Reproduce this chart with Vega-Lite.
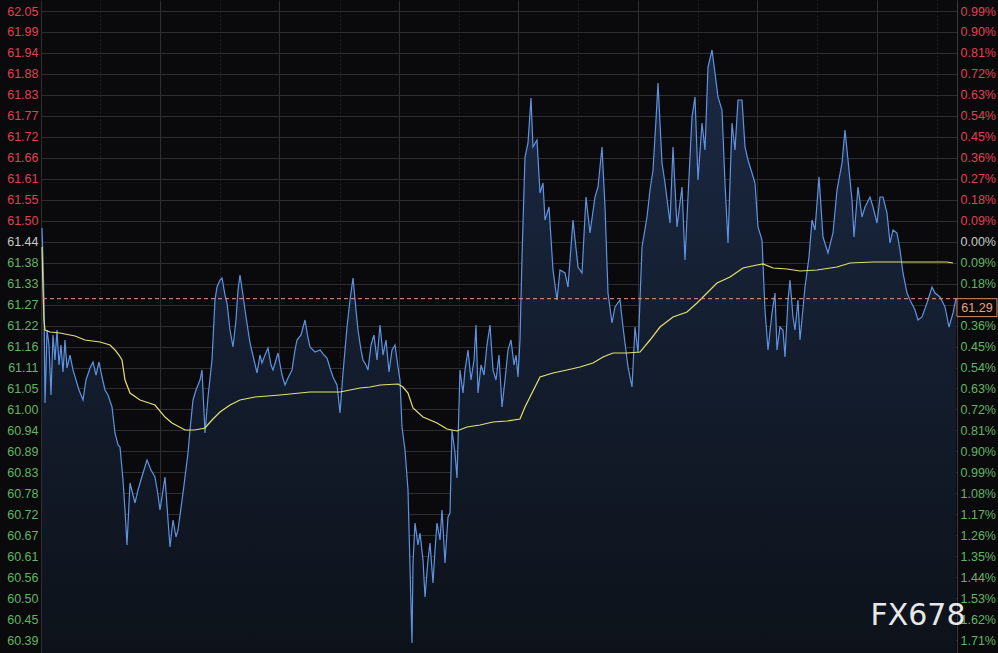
{
  "$schema": "https://vega.github.io/schema/vega-lite/v6.json",
  "width": 916,
  "height": 653,
  "autosize": {"type": "none"},
  "padding": {"left": 41, "top": 0, "right": 41, "bottom": 0},
  "background": "#0a0a0c",
  "config": {
    "view": {"stroke": null},
    "axis": {"labelFont": "Liberation Sans", "labelFontSize": 12.5}
  },
  "datasets": {
    "price": [
      {"t":1,"v":61.476},{"t":2,"v":61.3918},{"t":3,"v":61.2865},{"t":4,"v":61.0154},{"t":5,"v":61.1023},{"t":6,"v":61.2075},{"t":8,"v":61.1681},{"t":10,"v":61.0364},{"t":12,"v":61.1944},{"t":14,"v":61.1286},{"t":16,"v":61.2075},{"t":18,"v":61.1154},{"t":20,"v":61.1681},{"t":22,"v":61.097},{"t":24,"v":61.1812},{"t":26,"v":61.1075},{"t":29,"v":61.1417},{"t":32,"v":61.1023},{"t":35,"v":61.0759},{"t":38,"v":61.0496},{"t":42,"v":61.0233},{"t":45,"v":61.0759},{"t":49,"v":61.1075},{"t":52,"v":61.1233},{"t":55,"v":61.0891},{"t":58,"v":61.1233},{"t":61,"v":61.0838},{"t":64,"v":61.0496},{"t":67,"v":61.0364},{"t":71,"v":61.0049},{"t":74,"v":60.9364},{"t":77,"v":60.9048},{"t":79,"v":60.8996},{"t":82,"v":60.8127},{"t":84,"v":60.7337},{"t":86,"v":60.6416},{"t":89,"v":60.8048},{"t":92,"v":60.7732},{"t":94,"v":60.7522},{"t":97,"v":60.7864},{"t":99,"v":60.8048},{"t":103,"v":60.839},{"t":106,"v":60.8653},{"t":110,"v":60.839},{"t":114,"v":60.8206},{"t":117,"v":60.7732},{"t":119,"v":60.7337},{"t":122,"v":60.7864},{"t":124,"v":60.8206},{"t":127,"v":60.7074},{"t":129,"v":60.6363},{"t":132,"v":60.7074},{"t":135,"v":60.6627},{"t":137,"v":60.6811},{"t":142,"v":60.7785},{"t":147,"v":60.8838},{"t":149,"v":60.9443},{"t":152,"v":61.0233},{"t":155,"v":61.0496},{"t":159,"v":61.0759},{"t":161,"v":61.1023},{"t":164,"v":60.9364},{"t":167,"v":61.0312},{"t":171,"v":61.1286},{"t":174,"v":61.2865},{"t":176,"v":61.3207},{"t":179,"v":61.3392},{"t":181,"v":61.3444},{"t":184,"v":61.2997},{"t":186,"v":61.2786},{"t":189,"v":61.2075},{"t":192,"v":61.1628},{"t":195,"v":61.2339},{"t":197,"v":61.3128},{"t":199,"v":61.3523},{"t":202,"v":61.2997},{"t":204,"v":61.2602},{"t":207,"v":61.2075},{"t":209,"v":61.1733},{"t":213,"v":61.1286},{"t":216,"v":61.0944},{"t":219,"v":61.1417},{"t":221,"v":61.1207},{"t":224,"v":61.1417},{"t":227,"v":61.1602},{"t":230,"v":61.1154},{"t":232,"v":61.1023},{"t":235,"v":61.1286},{"t":237,"v":61.147},{"t":241,"v":61.0891},{"t":244,"v":61.0628},{"t":247,"v":61.0812},{"t":251,"v":61.1023},{"t":254,"v":61.1549},{"t":256,"v":61.1812},{"t":260,"v":61.1944},{"t":264,"v":61.2339},{"t":267,"v":61.1865},{"t":269,"v":61.1628},{"t":274,"v":61.1496},{"t":279,"v":61.1549},{"t":283,"v":61.1417},{"t":286,"v":61.1338},{"t":289,"v":61.1075},{"t":292,"v":61.0838},{"t":296,"v":61.0628},{"t":299,"v":60.9891},{"t":302,"v":61.0944},{"t":304,"v":61.1549},{"t":306,"v":61.2154},{"t":309,"v":61.2865},{"t":312,"v":61.3444},{"t":315,"v":61.2602},{"t":317,"v":61.2075},{"t":320,"v":61.1549},{"t":322,"v":61.1286},{"t":325,"v":61.1154},{"t":327,"v":61.1023},{"t":330,"v":61.1681},{"t":333,"v":61.1944},{"t":336,"v":61.1286},{"t":339,"v":61.2207},{"t":342,"v":61.1417},{"t":345,"v":61.1812},{"t":348,"v":61.097},{"t":351,"v":61.1549},{"t":354,"v":61.1681},{"t":357,"v":61.1102},{"t":359,"v":61.0759},{"t":361,"v":60.9522},{"t":364,"v":60.8917},{"t":367,"v":60.7864},{"t":369,"v":60.5837},{"t":371,"v":60.3836},{"t":372,"v":60.5942},{"t":374,"v":60.6995},{"t":377,"v":60.6416},{"t":379,"v":60.6732},{"t":382,"v":60.6021},{"t":384,"v":60.5047},{"t":387,"v":60.6021},{"t":389,"v":60.6469},{"t":392,"v":60.5416},{"t":394,"v":60.6284},{"t":396,"v":60.6995},{"t":399,"v":60.6548},{"t":401,"v":60.7337},{"t":404,"v":60.5942},{"t":407,"v":60.7153},{"t":409,"v":60.7258},{"t":411,"v":60.9443},{"t":414,"v":60.8838},{"t":416,"v":60.818},{"t":419,"v":61.1023},{"t":422,"v":61.0417},{"t":424,"v":61.1023},{"t":427,"v":61.1549},{"t":430,"v":61.0759},{"t":433,"v":61.1286},{"t":435,"v":61.2207},{"t":437,"v":61.0417},{"t":440,"v":61.1154},{"t":443,"v":61.0891},{"t":446,"v":61.1681},{"t":449,"v":61.2207},{"t":452,"v":61.1023},{"t":455,"v":61.0759},{"t":458,"v":61.1417},{"t":461,"v":61.0049},{"t":464,"v":61.0759},{"t":467,"v":61.1549},{"t":470,"v":61.1812},{"t":473,"v":61.1154},{"t":475,"v":61.1417},{"t":477,"v":61.0838},{"t":479,"v":61.1812},{"t":481,"v":61.3997},{"t":484,"v":61.6629},{"t":487,"v":61.6998},{"t":490,"v":61.8182},{"t":492,"v":61.6893},{"t":496,"v":61.7077},{"t":499,"v":61.5682},{"t":502,"v":61.5945},{"t":504,"v":61.4971},{"t":508,"v":61.5313},{"t":512,"v":61.3655},{"t":516,"v":61.2865},{"t":519,"v":61.3655},{"t":524,"v":61.3576},{"t":527,"v":61.3207},{"t":532,"v":61.4971},{"t":537,"v":61.3734},{"t":541,"v":61.3576},{"t":545,"v":61.5576},{"t":549,"v":61.4629},{"t":554,"v":61.5576},{"t":557,"v":61.584},{"t":561,"v":61.6893},{"t":564,"v":61.5313},{"t":567,"v":61.3049},{"t":571,"v":61.226},{"t":574,"v":61.2681},{"t":579,"v":61.2865},{"t":582,"v":61.2154},{"t":587,"v":61.1102},{"t":591,"v":61.0575},{"t":594,"v":61.2154},{"t":597,"v":61.147},{"t":601,"v":61.426},{"t":606,"v":61.505},{"t":609,"v":61.5761},{"t":612,"v":61.6287},{"t":615,"v":61.7603},{"t":617,"v":61.8577},{"t":621,"v":61.6471},{"t":624,"v":61.5945},{"t":629,"v":61.4892},{"t":632,"v":61.6893},{"t":636,"v":61.4787},{"t":641,"v":61.584},{"t":644,"v":61.3918},{"t":647,"v":61.5576},{"t":651,"v":61.7682},{"t":654,"v":61.8209},{"t":657,"v":61.6024},{"t":661,"v":61.7524},{"t":664,"v":61.6814},{"t":667,"v":61.8998},{"t":671,"v":61.9446},{"t":674,"v":61.884},{"t":677,"v":61.8209},{"t":681,"v":61.7866},{"t":684,"v":61.5945},{"t":687,"v":61.4366},{"t":691,"v":61.7524},{"t":694,"v":61.6814},{"t":697,"v":61.813},{"t":701,"v":61.813},{"t":704,"v":61.6893},{"t":707,"v":61.655},{"t":711,"v":61.6208},{"t":714,"v":61.5945},{"t":717,"v":61.4787},{"t":721,"v":61.4445},{"t":724,"v":61.2602},{"t":727,"v":61.1549},{"t":731,"v":61.2523},{"t":734,"v":61.3049},{"t":736,"v":61.1549},{"t":739,"v":61.2154},{"t":742,"v":61.2075},{"t":744,"v":61.1365},{"t":747,"v":61.2865},{"t":749,"v":61.3392},{"t":752,"v":61.2418},{"t":754,"v":61.2075},{"t":757,"v":61.2865},{"t":759,"v":61.1812},{"t":764,"v":61.3207},{"t":768,"v":61.3997},{"t":771,"v":61.4971},{"t":774,"v":61.4708},{"t":778,"v":61.6103},{"t":782,"v":61.4523},{"t":787,"v":61.4102},{"t":792,"v":61.4629},{"t":796,"v":61.5761},{"t":801,"v":61.6471},{"t":804,"v":61.734},{"t":807,"v":61.655},{"t":811,"v":61.5497},{"t":813,"v":61.4523},{"t":817,"v":61.584},{"t":821,"v":61.505},{"t":824,"v":61.5313},{"t":829,"v":61.5576},{"t":832,"v":61.5313},{"t":836,"v":61.4892},{"t":839,"v":61.5576},{"t":842,"v":61.5576},{"t":846,"v":61.5155},{"t":849,"v":61.4366},{"t":852,"v":61.4708},{"t":856,"v":61.4629},{"t":859,"v":61.4181},{"t":862,"v":61.3576},{"t":866,"v":61.3049},{"t":869,"v":61.2865},{"t":874,"v":61.2602},{"t":877,"v":61.2339},{"t":881,"v":61.2418},{"t":886,"v":61.2786},{"t":891,"v":61.3207},{"t":894,"v":61.3049},{"t":899,"v":61.2944},{"t":904,"v":61.2681},{"t":908,"v":61.2154},{"t":912,"v":61.2523},{"t":915,"v":61.29}
    ],
    "avg": [
      {"t":1,"v":61.426},{"t":2,"v":61.3128},{"t":3,"v":61.2339},{"t":4,"v":61.2075},{"t":9,"v":61.2023},{"t":19,"v":61.1996},{"t":34,"v":61.1918},{"t":44,"v":61.1812},{"t":59,"v":61.176},{"t":69,"v":61.1681},{"t":74,"v":61.1549},{"t":78,"v":61.1417},{"t":81,"v":61.1286},{"t":84,"v":61.0759},{"t":89,"v":61.0417},{"t":99,"v":61.0233},{"t":114,"v":61.0101},{"t":124,"v":60.9785},{"t":131,"v":60.9627},{"t":144,"v":60.9443},{"t":154,"v":60.9443},{"t":164,"v":60.9496},{"t":171,"v":60.9706},{"t":179,"v":60.9917},{"t":189,"v":61.0101},{"t":199,"v":61.0233},{"t":214,"v":61.0312},{"t":239,"v":61.0364},{"t":269,"v":61.0443},{"t":299,"v":61.0443},{"t":319,"v":61.0549},{"t":329,"v":61.0575},{"t":339,"v":61.0628},{"t":357,"v":61.0654},{"t":362,"v":61.0575},{"t":367,"v":61.0417},{"t":372,"v":61.0022},{"t":382,"v":60.9785},{"t":396,"v":60.9627},{"t":406,"v":60.9469},{"t":416,"v":60.9417},{"t":426,"v":60.9522},{"t":439,"v":60.9575},{"t":452,"v":60.9654},{"t":466,"v":60.968},{"t":479,"v":60.9733},{"t":484,"v":61.0049},{"t":489,"v":61.0312},{"t":499,"v":61.0838},{"t":512,"v":61.0944},{"t":526,"v":61.1023},{"t":539,"v":61.1102},{"t":552,"v":61.1207},{"t":562,"v":61.1365},{"t":572,"v":61.147},{"t":586,"v":61.147},{"t":599,"v":61.1496},{"t":609,"v":61.1812},{"t":619,"v":61.2154},{"t":632,"v":61.2418},{"t":646,"v":61.2549},{"t":656,"v":61.2786},{"t":666,"v":61.3049},{"t":676,"v":61.3313},{"t":689,"v":61.347},{"t":702,"v":61.3707},{"t":716,"v":61.3786},{"t":722,"v":61.3813},{"t":732,"v":61.3707},{"t":746,"v":61.3681},{"t":759,"v":61.3629},{"t":776,"v":61.3655},{"t":796,"v":61.3734},{"t":809,"v":61.3839},{"t":832,"v":61.3865},{"t":859,"v":61.3865},{"t":882,"v":61.3865},{"t":906,"v":61.3865},{"t":912,"v":61.3839}
    ],
    "last": [{"v": 61.29, "t0": 916, "t1": 956, "p0": 61.29, "p1": 61.2428, "tm": 936, "pm": 61.2665, "label": "61.29"}],
    "mark": [{"t": 877, "v": 60.4547, "label": "FX678"}]
  },
  "layer": [
    {
      "data": {"name": "price"},
      "mark": {"type": "area", "color": {"gradient": "linear", "x1": 0, "y1": 0, "x2": 0, "y2": 1, "stops": [{"offset": 0, "color": "#1a2943"}, {"offset": 1, "color": "#0d121a"}]}},
      "encoding": {
        "x": {"field": "t", "type": "quantitative", "scale": {"domain": [0, 916], "nice": false, "zero": false},
          "axis": {"values": [0, 119, 238.5, 358, 477, 597, 716, 836, 916], "grid": true, "gridColor": "#2e2e30", "gridWidth": 1, "labels": false, "ticks": false, "domain": false, "title": null}},
        "y": {"field": "v", "type": "quantitative", "scale": {"domain": [60.3573, 62.0762], "nice": false, "zero": false},
          "axis": {"orient": "left", "values": [62.0472,61.992,61.9368,61.8816,61.8264,61.7712,61.716,61.6608,61.6056,61.5504,61.4952,61.44,61.3848,61.3296,61.2744,61.2192,61.164,61.1088,61.0536,60.9984,60.9432,60.888,60.8328,60.7776,60.7224,60.6672,60.612,60.5568,60.5016,60.4464,60.3912],
            "format": ".2f", "grid": true, "gridColor": "#2e2e30", "gridWidth": 1, "ticks": false, "domain": false, "title": null, "labelPadding": 3, "labelOverlap": false, "labelFlush": false, "labelBaseline": "middle",
            "labelColor": {"condition": [{"test": "datum.value > 61.441", "value": "#e0414f"}, {"test": "datum.value < 61.439", "value": "#62b562"}], "value": "#c8c8c8"}}},
        "y2": {"datum": 60.3573}
      }
    },
    {
      "data": {"name": "price"},
      "mark": {"type": "line", "color": "#5f93e2", "strokeWidth": 1.2},
      "encoding": {
        "x": {"field": "t", "type": "quantitative",
          "axis": {"values": [59, 179, 298.5, 418, 537, 657, 776, 896], "grid": true, "gridColor": "#222224", "gridDash": [2, 2], "gridWidth": 1, "labels": false, "ticks": false, "domain": false, "title": null}},
        "y": {"field": "v", "type": "quantitative",
          "axis": {"orient": "right", "values": [62.0472,61.992,61.9368,61.8816,61.8264,61.7712,61.716,61.6608,61.6056,61.5504,61.4952,61.44,61.3848,61.3296,61.2744,61.2192,61.164,61.1088,61.0536,60.9984,60.9432,60.888,60.8328,60.7776,60.7224,60.6672,60.612,60.5568,60.5016,60.4464,60.3912],
            "labelExpr": "format(abs(datum.value - 61.44) / 61.44 * 100, '.2f') + '%'", "grid": false, "ticks": false, "domain": true, "domainColor": "#3a3a3c", "title": null, "labelPadding": 3, "labelOverlap": false, "labelFlush": false, "labelBaseline": "middle",
            "labelColor": {"condition": [{"test": "datum.value > 61.441", "value": "#e0414f"}, {"test": "datum.value < 61.439", "value": "#62b562"}], "value": "#c8c8c8"}}}
      }
    },
    {
      "data": {"name": "avg"},
      "mark": {"type": "line", "color": "#e4e070", "strokeWidth": 1.2},
      "encoding": {
        "x": {"field": "t", "type": "quantitative", "axis": null},
        "y": {"field": "v", "type": "quantitative", "axis": null}
      }
    },
    {
      "data": {"name": "last"},
      "mark": {"type": "rule", "color": "#e49a7a", "strokeDash": [4, 3], "strokeWidth": 1},
      "encoding": {
        "y": {"field": "v", "type": "quantitative", "axis": null}
      }
    },
    {
      "data": {"name": "last"},
      "mark": {"type": "rect", "fill": "#0a0a0c", "stroke": "#e08a68", "strokeWidth": 1, "clip": false},
      "encoding": {
        "x": {"field": "t0", "type": "quantitative", "axis": null},
        "x2": {"field": "t1"},
        "y": {"field": "p0", "type": "quantitative", "axis": null},
        "y2": {"field": "p1"}
      }
    },
    {
      "data": {"name": "last"},
      "mark": {"type": "text", "color": "#f0a07c", "font": "Liberation Sans", "fontSize": 12.5, "align": "center", "baseline": "middle"},
      "encoding": {
        "x": {"field": "tm", "type": "quantitative", "axis": null},
        "y": {"field": "pm", "type": "quantitative", "axis": null},
        "text": {"field": "label"}
      }
    },
    {
      "data": {"name": "mark"},
      "mark": {"type": "text", "color": "#e8e8ea", "font": "DejaVu Sans", "fontSize": 30, "align": "center", "baseline": "middle"},
      "encoding": {
        "x": {"field": "t", "type": "quantitative", "axis": null},
        "y": {"field": "v", "type": "quantitative", "axis": null},
        "text": {"field": "label"}
      }
    }
  ],
  "resolve": {"axis": {"x": "independent", "y": "independent"}}
}
